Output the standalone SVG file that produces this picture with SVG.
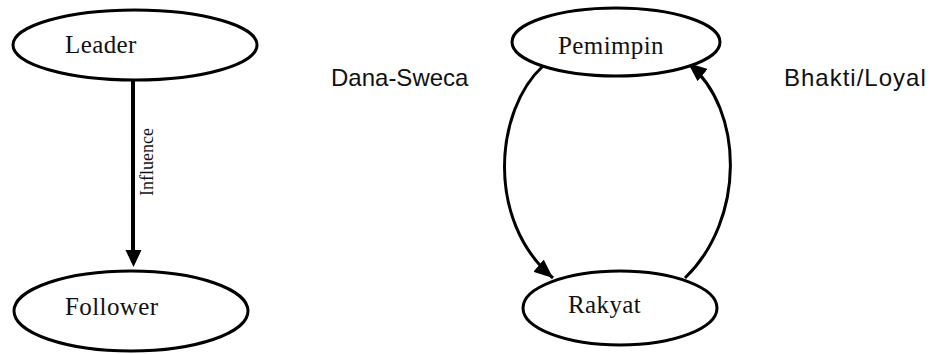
<svg xmlns="http://www.w3.org/2000/svg" width="942" height="354" viewBox="0 0 942 354">
  <style>
    .node { fill: #ffffff; stroke: #000000; stroke-width: 3; }
    .lbl { font-family: "Liberation Serif", "Times New Roman", serif; font-size: 25px; fill: #111111; letter-spacing: 0.4px; }
    .side { font-family: "Liberation Sans", Arial, sans-serif; font-size: 24px; fill: #111111; }
    .edge { fill: none; stroke: #000000; stroke-width: 3; }
  </style>
  <defs>
    <marker id="head" markerUnits="userSpaceOnUse" markerWidth="20" markerHeight="16" refX="19" refY="8" orient="auto">
      <path d="M0,0 L19,8 L0,16 z" fill="#000000"/>
    </marker>
  </defs>
  <rect width="942" height="354" fill="#ffffff"/>

  <!-- connectors -->
  <g id="connectors">
    <line x1="133" y1="80" x2="133" y2="251" stroke="#000000" stroke-width="4"/>
    <polygon points="125.5,250 141.5,250 133.5,267" fill="#000000"/>
    <text class="lbl" style="font-size:18px;letter-spacing:0" transform="translate(153,162) rotate(-90)" text-anchor="middle">Influence</text>
    <path class="edge" d="M543,66 C495,110 485,220 553,278" marker-end="url(#head)"/>
    <path class="edge" d="M685,278 C745,220 745,110 688,63" marker-end="url(#head)"/>
  </g>

  <!-- left model -->
  <g id="leader">
    <ellipse class="node" cx="135" cy="45" rx="122" ry="35"/>
    <text class="lbl" x="65" y="53">Leader</text>
  </g>
  <g id="follower">
    <ellipse class="node" cx="131" cy="311" rx="117" ry="40"/>
    <text class="lbl" x="65" y="315">Follower</text>
  </g>

  <!-- right model -->
  <g id="pemimpin">
    <ellipse class="node" cx="616" cy="42" rx="104" ry="34"/>
    <text class="lbl" x="558" y="54">Pemimpin</text>
  </g>
  <g id="rakyat">
    <ellipse class="node" cx="620" cy="308" rx="97" ry="37"/>
    <text class="lbl" x="568" y="313">Rakyat</text>
  </g>

  <g id="labels">
    <text class="side" x="331" y="86">Dana-Sweca</text>
    <text class="side" x="784" y="86" style="letter-spacing:1px">Bhakti/Loyal</text>
  </g>
</svg>
